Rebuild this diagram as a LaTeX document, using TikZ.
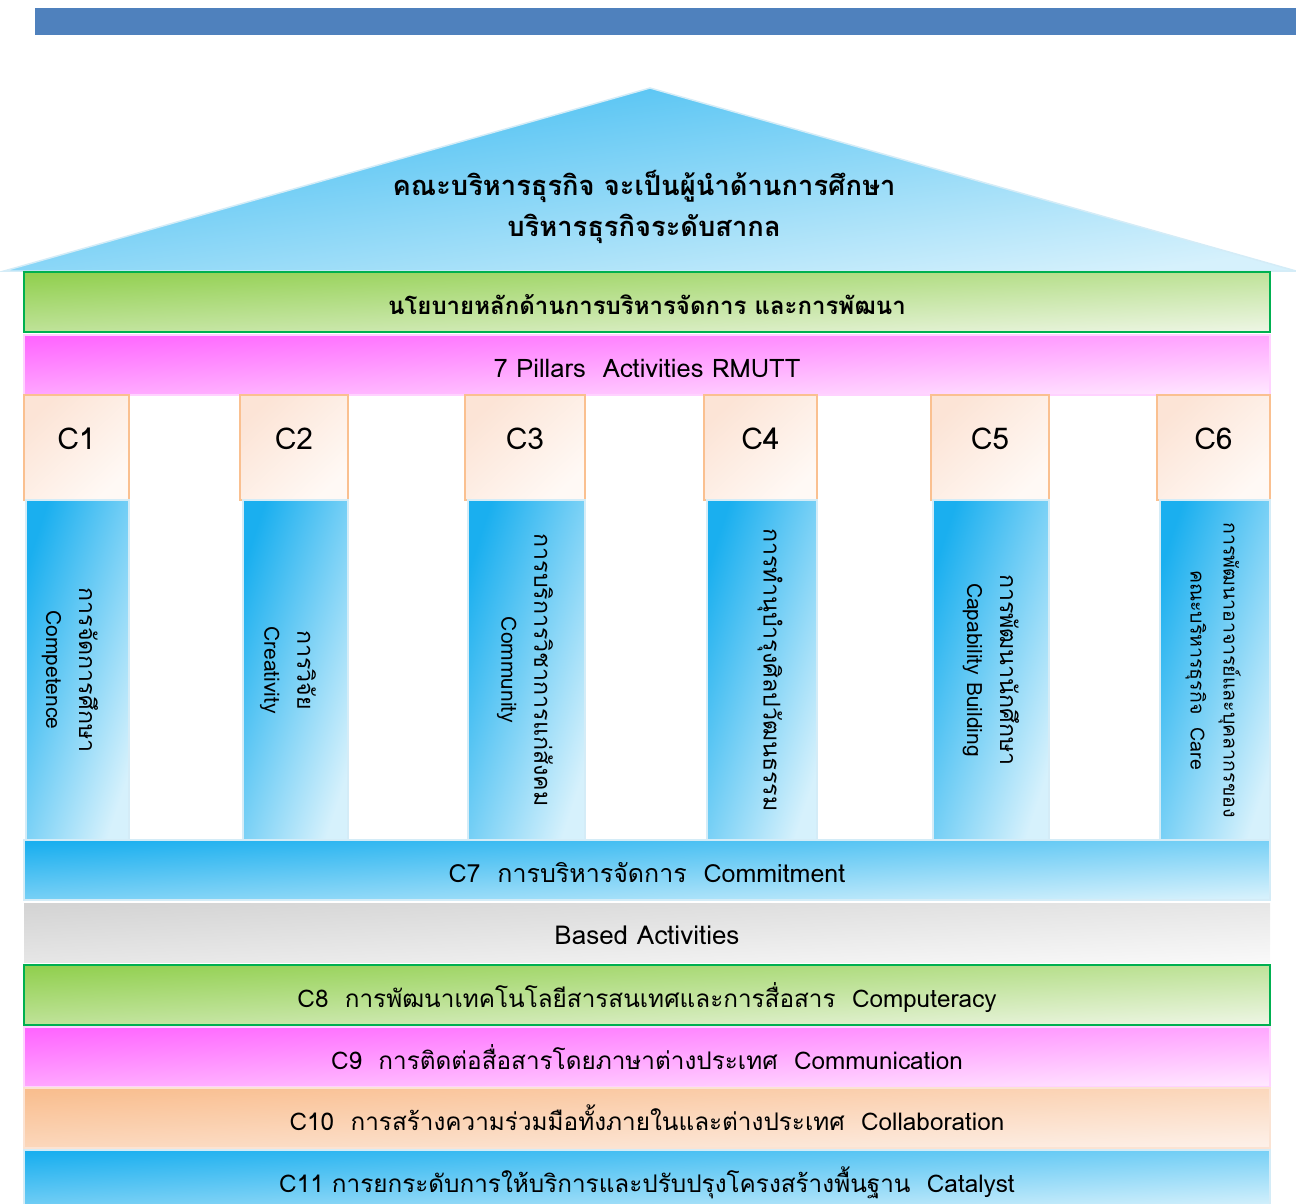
\documentclass[tikz,border=0pt]{standalone}
\usepackage{fontspec}
\setmainfont[Script=Thai]{Loma}

\definecolor{barblue}{HTML}{4F81BD}
\definecolor{skyA}{HTML}{1AAFEF}
\definecolor{skyB}{HTML}{D6F1FC}
\definecolor{skyline}{HTML}{D4ECF7}
\definecolor{grnA}{HTML}{92D050}
\definecolor{grnB}{HTML}{ECF5E2}
\definecolor{grnline}{HTML}{00B050}
\definecolor{pnkA}{HTML}{FF66FF}
\definecolor{pnkB}{HTML}{FFE6FF}
\definecolor{pnkline}{HTML}{FFD2FF}
\definecolor{capA}{HTML}{FCE4D6}
\definecolor{capB}{HTML}{FFF9F5}
\definecolor{capline}{HTML}{FAC090}
\definecolor{gryA}{HTML}{D4D4D4}
\definecolor{gryB}{HTML}{F8F8F8}
\definecolor{orgA}{HTML}{F9BE8F}
\definecolor{orgB}{HTML}{FDF0E8}
\definecolor{orgline}{HTML}{FBE3D3}

\newcommand\rooftxt{\fontsize{27.3}{41}\selectfont\bfseries}
\newcommand\bandtxt{\fontsize{24.3}{30}\selectfont}
\newcommand\captxt{\fontsize{30}{36}\selectfont}
\newcommand\thaicol{\fontsize{23.2}{33}\selectfont}
\newcommand\engcol{\fontsize{21}{33}\selectfont}
\newcommand\smallcol{\fontsize{19.5}{33}\selectfont}

\begin{document}
\begin{tikzpicture}[x=1pt, y=-1pt,
  band/.style={minimum width=1246pt, minimum height=60pt, inner sep=0pt, text height=24pt, text depth=0pt, font=\bandtxt},
  green/.style={band, top color=grnA, bottom color=grnB, shading angle=2.76, draw=grnline, line width=2pt},
  pink/.style={band, top color=pnkA, bottom color=pnkB, shading angle=2.76, draw=pnkline, line width=1.2pt},
  sky/.style={top color=skyA, bottom color=skyB, draw=skyline, line width=1.2pt},
  skyband/.style={band, sky, shading angle=2.76},
  grey/.style={band, top color=gryA, bottom color=gryB, shading angle=2.76},
  peach/.style={band, top color=orgA, bottom color=orgB, shading angle=2.76, draw=orgline, line width=1.2pt},
  capital/.style={minimum height=105pt, inner sep=0pt, text height=22pt, text depth=19pt, font=\captxt,
    top color=capA, bottom color=capB, shading angle=43, draw=capline, line width=1.5pt},
  shaft/.style={minimum height=340pt, inner sep=0pt, sky, shading angle=72},
  coltext/.style={rotate=-90, align=center, inner sep=0pt, font=\thaicol}]

\useasboundingbox (0,0) rectangle (1296,1203);
\clip (0,0) rectangle (1296,1203);

\node[fill=barblue, minimum width=1261pt, minimum height=27pt, inner sep=0pt] (topbar) at (665.5,21.5) {};

\path[top color=skyA!85, bottom color=skyB, shading angle=8, draw=skyline, line width=1.5pt]
  (4,271) -- (650,88) -- (1296,271) -- cycle;
\node[align=center, font=\rooftxt] (roof) at (644,207)
  {คณะบริหารธุรกิจ จะเป็นผู้นำด้านการศึกษา\\บริหารธุรกิจระดับสากล};

\node[green, font=\fontsize{24}{30}\selectfont\bfseries] (policy) at (647,302) {นโยบายหลักด้านการบริหารจัดการ และการพัฒนา};
\node[pink, font=\fontsize{25.5}{30}\selectfont] (pillars) at (647,365) {7 Pillars\ \ Activities RMUTT};

\node[capital, minimum width=105pt] (cap1) at (76.5,447.5) {C1};
\node[capital, minimum width=108pt] (cap2) at (294,447.5) {C2};
\node[capital, minimum width=120pt] (cap3) at (525,447.5) {C3};
\node[capital, minimum width=113pt] (cap4) at (760.5,447.5) {C4};
\node[capital, minimum width=118pt] (cap5) at (990,447.5) {C5};
\node[capital, minimum width=113pt] (cap6) at (1213.5,447.5) {C6};

\node[shaft, minimum width=103pt] (shaft1) at (77.5,670) {};
\node[shaft, minimum width=105pt] (shaft2) at (295.5,670) {};
\node[shaft, minimum width=117pt] (shaft3) at (526.5,670) {};
\node[shaft, minimum width=110pt] (shaft4) at (762,670) {};
\node[shaft, minimum width=116pt] (shaft5) at (991,670) {};
\node[shaft, minimum width=110pt] (shaft6) at (1215,670) {};

\node[coltext] (txt1) at (70,670) {การจัดการศึกษา\\{\engcol Competence}};
\node[coltext] (txt2) at (288,670) {การวิจัย\\{\engcol Creativity}};
\node[coltext] (txt3) at (525,670) {การบริการวิชาการแก่สังคม\\{\engcol Community}};
\node[coltext] (txt4) at (770,670) {การทำนุบำรุงศิลปวัฒนธรรม};
\node[coltext] (txt5) at (991,670) {การพัฒนานักศึกษา\\{\engcol Capability Building}};
\node[coltext, font=\smallcol] (txt6) at (1213,670) {การพัฒนาอาจารย์และบุคลากรของ\\คณะบริหารธุรกิจ\ \ Care};

\node[skyband, font=\fontsize{25}{30}\selectfont] (c7) at (647,870) {C7\ \ การบริหารจัดการ\ \ Commitment};
\node[grey, minimum height=59pt, font=\fontsize{26}{30}\selectfont] (based) at (647,932.5) {Based Activities};
\node[green] (c8) at (647,995) {C8\ \ การพัฒนาเทคโนโลยีสารสนเทศและการสื่อสาร\ \ Computeracy};
\node[pink] (c9) at (647,1057) {C9\ \ การติดต่อสื่อสารโดยภาษาต่างประเทศ\ \ Communication};
\node[peach] (c10) at (647,1118) {C10\ \ การสร้างความร่วมมือทั้งภายในและต่างประเทศ\ \ Collaboration};
\node[skyband] (c11) at (647,1180) {C11 การยกระดับการให้บริการและปรับปรุงโครงสร้างพื้นฐาน\ \ Catalyst};

\end{tikzpicture}
\end{document}
